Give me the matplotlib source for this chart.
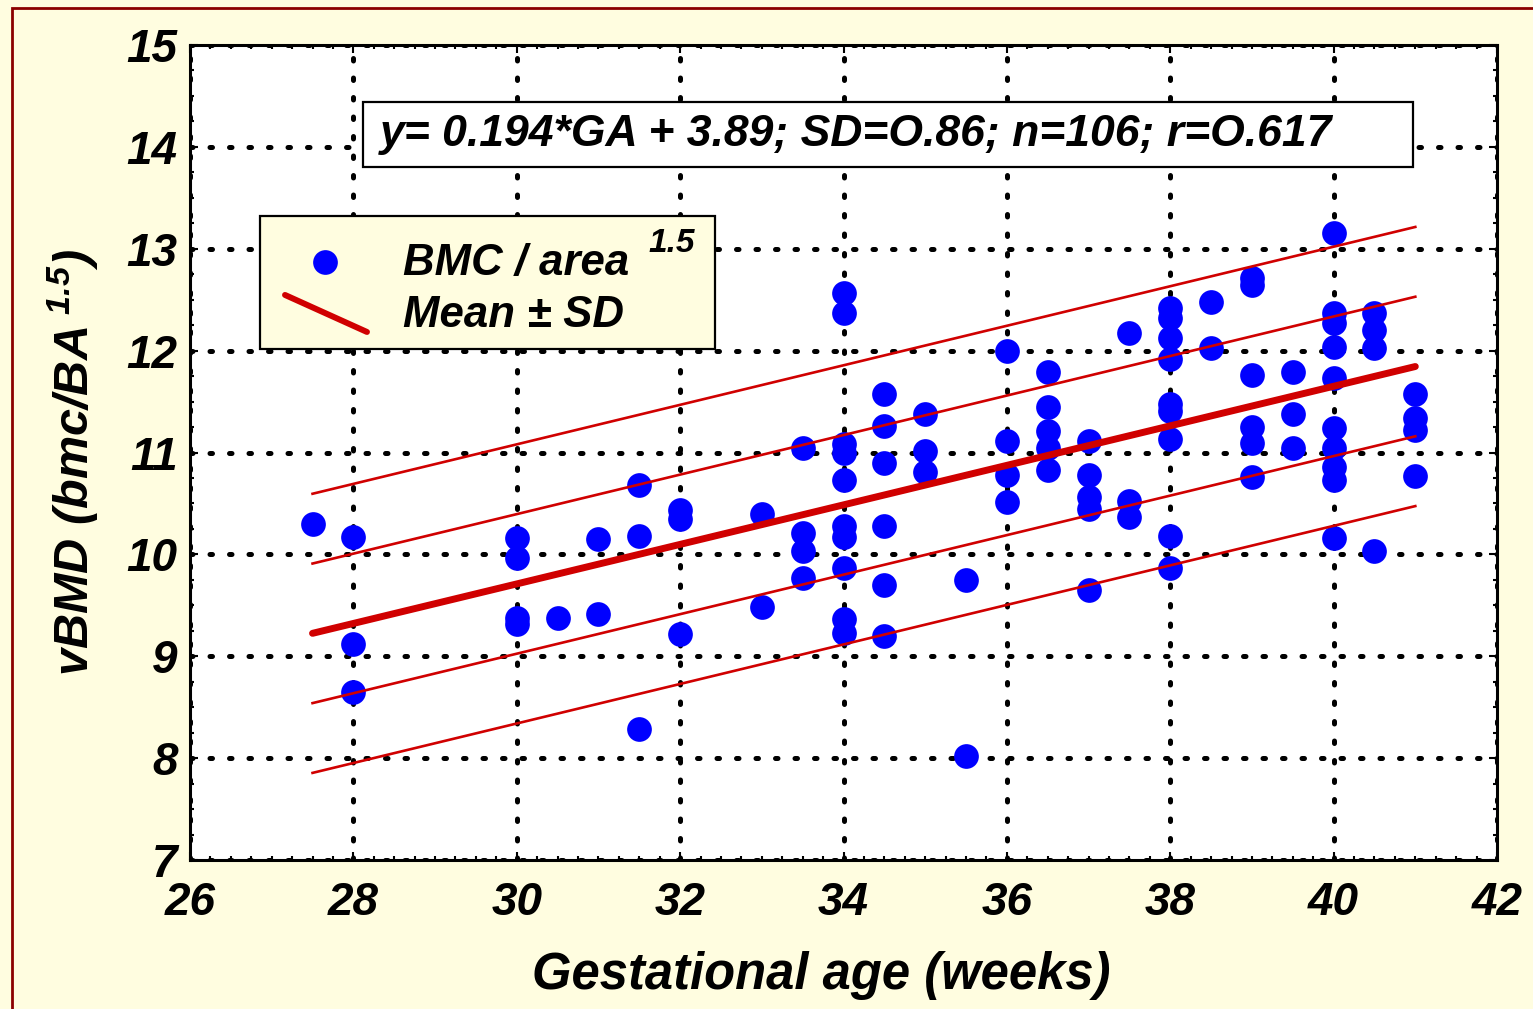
import numpy as np
import matplotlib
matplotlib.use("Agg")
import matplotlib.pyplot as plt
from matplotlib.patches import Rectangle
from matplotlib.ticker import MultipleLocator

plt.rcParams["font.family"] = ["Liberation Sans", "DejaVu Sans"]
plt.rcParams["mathtext.fontset"] = "custom"
plt.rcParams["mathtext.rm"] = "Liberation Sans:bold:italic"
plt.rcParams["mathtext.it"] = "Liberation Sans:bold:italic"
plt.rcParams["mathtext.bf"] = "Liberation Sans:bold:italic"
plt.rcParams["lines.dash_capstyle"] = "round"

# ---- data ----
ga_weeks = [27.5,
            28, 28, 28,
            30, 30, 30, 30,
            30.5,
            31, 31,
            31.5, 31.5, 31.5,
            32, 32, 32,
            33, 33,
            33.5, 33.5, 33.5, 33.5,
            34, 34, 34, 34, 34, 34, 34, 34, 34, 34,
            34.5, 34.5, 34.5, 34.5, 34.5, 34.5,
            35, 35, 35,
            35.5, 35.5,
            36, 36, 36, 36,
            36.5, 36.5, 36.5, 36.5, 36.5,
            37, 37, 37, 37, 37,
            37.5, 37.5, 37.5,
            38, 38, 38, 38, 38, 38, 38, 38, 38,
            38.5, 38.5,
            39, 39, 39, 39, 39, 39,
            39.5, 39.5, 39.5,
            40, 40, 40, 40, 40, 40, 40, 40, 40, 40,
            40.5, 40.5, 40.5, 40.5,
            41, 41, 41, 41]
vbmd = [10.30,
        10.17, 9.12, 8.65,
        10.16, 9.96, 9.38, 9.32,
        9.38,
        10.15, 9.41,
        10.68, 10.18, 8.29,
        10.44, 10.35, 9.22,
        10.40, 9.48,
        11.04, 10.21, 10.03, 9.77,
        12.57, 12.37, 11.08, 11.00, 10.73, 10.28, 10.17, 9.87, 9.37, 9.23,
        11.57, 11.26, 10.90, 10.28, 9.70, 9.20,
        11.38, 11.01, 10.81,
        9.75, 8.02,
        12.00, 11.11, 10.78, 10.51,
        11.79, 11.45, 11.21, 11.04, 10.83,
        11.11, 10.78, 10.56, 10.45, 9.65,
        12.17, 10.52, 10.37,
        12.42, 12.32, 12.12, 11.92, 11.48, 11.41, 11.13, 10.18, 9.87,
        12.48, 12.03,
        12.71, 12.64, 11.76, 11.25, 11.09, 10.76,
        11.79, 11.38, 11.04,
        13.15, 12.37, 12.27, 12.04, 11.73, 11.24, 11.04, 10.86, 10.73, 10.16,
        12.37, 12.20, 12.03, 10.03,
        11.57, 11.34, 11.22, 10.77]

slope = 0.194
intercept = 3.89
fit_range = [27.5, 41.0]
band_offsets = [0.685, 1.37]   # inner / outer SD lines

equation_text = "y= 0.194*GA + 3.89; SD=O.86; n=106; r=O.617"

# ---- styling ----
BG = "#FFFDE0"
RED = "#D00000"
BLUE = "#0000FF"
font = dict(fontweight="bold", fontstyle="italic")

fig = plt.figure(figsize=(15.33, 10.09), dpi=100, facecolor=BG)
ax = fig.add_axes([190 / 1533, 1 - 860 / 1009, 1307 / 1533, 815 / 1009])
ax.set_facecolor("white")

# figure border (dark red, runs off right/bottom edges)
fig.patches.append(Rectangle((12 / 1533, -0.1), 1.2, 1.1 - 8 / 1009,
                             transform=fig.transFigure, fill=False,
                             edgecolor="#8B0000", linewidth=2.0, zorder=0))

# points
ax.plot(ga_weeks, vbmd, "o", color=BLUE, markersize=17.8, markeredgewidth=0, zorder=3)

# regression + SD lines
gx = np.array(fit_range)
gy = slope * gx + intercept
ax.plot(gx, gy, color=RED, linewidth=5.0, solid_capstyle="round", zorder=4)
for off in band_offsets:
    ax.plot(gx, gy + off, color=RED, linewidth=1.9, zorder=4)
    ax.plot(gx, gy - off, color=RED, linewidth=1.9, zorder=4)

ax.set_xlim(26, 42)
ax.set_ylim(7, 15)
ax.xaxis.set_major_locator(MultipleLocator(2))
ax.yaxis.set_major_locator(MultipleLocator(1))
ax.xaxis.set_minor_locator(MultipleLocator(0.25))
ax.yaxis.set_minor_locator(MultipleLocator(0.25))
ax.grid(True, which="major", color="black", linewidth=3.6,
        linestyle=(0, (0.5, 3.4)), zorder=0)
ax.set_axisbelow(True)

ax.tick_params(which="both", direction="in", top=True, right=True, width=1.5)
ax.tick_params(which="major", length=6)
ax.tick_params(which="minor", length=3)
ax.tick_params(axis="x", which="major", pad=15, labelsize=33)
ax.tick_params(axis="y", which="major", pad=9, labelsize=33)
for lab in ax.get_xticklabels() + ax.get_yticklabels():
    lab.set_fontweight("bold")
    lab.set_fontstyle("italic")
for sp in ax.spines.values():
    sp.set_linewidth(2.2)

# axis labels
fig.text(73 / 1533, 1 - 462 / 1009, r"vBMD (bmc/BA$^{\ 1.5}$)", rotation=90,
         ha="center", va="center", fontsize=35, **font)
fig.text(821 / 1533, 1 - 975 / 1009, "Gestational age (weeks)",
         ha="center", va="center", fontsize=36.5, **font)

# equation box
ax.add_patch(Rectangle((0.1324, 0.8503), 0.8033, 0.0797, transform=ax.transAxes,
                       facecolor="white", edgecolor="black", linewidth=1.6, zorder=5))
ax.text(0.1454, 0.8896, equation_text, transform=ax.transAxes, ha="left",
        va="center", fontsize=32, zorder=6, **font)

# legend box (drawn by hand: diagonal line swatch)
ax.add_patch(Rectangle((0.0536, 0.627), 0.3481, 0.163, transform=ax.transAxes,
                       facecolor=BG, edgecolor="black", linewidth=1.6, zorder=5))
ax.plot([0.1033], [0.7337], "o", color=BLUE, markersize=17.8, markeredgewidth=0,
        transform=ax.transAxes, zorder=6)
ax.plot([0.0727, 0.1354], [0.6933, 0.6479], color=RED, linewidth=4.3,
        solid_capstyle="round", transform=ax.transAxes, zorder=6)
ax.text(0.163, 0.7325, "BMC / area", transform=ax.transAxes, ha="left",
        va="center", fontsize=31.5, zorder=6, **font)
ax.text(0.3504, 0.757, "1.5", transform=ax.transAxes, ha="left",
        va="center", fontsize=24, zorder=6, **font)
ax.text(0.163, 0.6687, "Mean \u00b1 SD", transform=ax.transAxes, ha="left",
        va="center", fontsize=31.5, zorder=6, **font)

fig.savefig("out.png", dpi=100, facecolor=BG)
plt.close(fig)
